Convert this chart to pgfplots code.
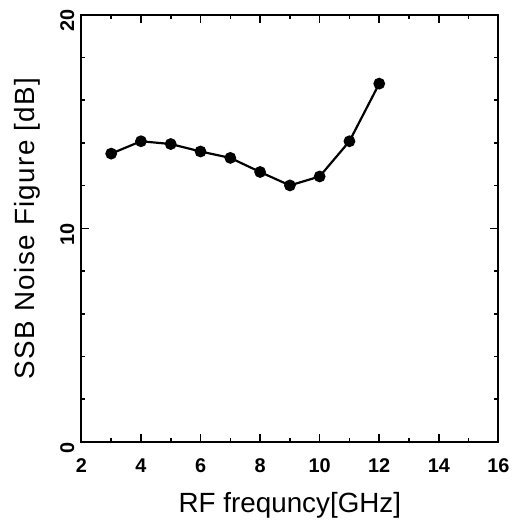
\documentclass[border=0pt]{standalone}
\usepackage{fontspec}
\setmainfont{Liberation Sans}
\usepackage{pgfplots}
\pgfplotsset{compat=1.18}
\begin{document}
\begin{tikzpicture}
\begin{axis}[
  scale only axis,
  width=210pt, height=215pt,
  xmin=2, xmax=16, ymin=0, ymax=20,
  xtick={2,4,...,16},
  minor xtick={3,5,...,15},
  ytick={0,10,20},
  minor ytick={2,4,6,8,12,14,16,18},
  tick align=inside,
  major tick length=4pt,
  minor tick length=2pt,
  axis line style={line width=1pt},
  every tick/.style={black, line width=0.8pt},
  tick label style={font=\bfseries\fontsize{10}{12}\selectfont},
  /pgf/number format/assume math mode=true,
  xticklabel style={yshift=-5pt},
  yticklabel style={rotate=90, anchor=south, xshift=-3pt},
  ylabel={SSB Noise Figure [dB]},
  xlabel={RF frequncy[GHz]},
  xlabel style={font=\fontsize{14}{16}\selectfont, at={(axis description cs:0.5,0)}, anchor=north, yshift=-22pt},
  ylabel style={font=\addfontfeatures{LetterSpace=5}\fontsize{14}{16}\selectfont, yshift=3pt},
]
\addplot[black, line width=1.1pt, mark=*, mark size=2.4pt] coordinates {
  (3,13.5) (4,14.08) (5,13.95) (6,13.6) (7,13.3) (8,12.64) (9,12.01) (10,12.43) (11,14.08) (12,16.78)
};
\end{axis}
\path (current axis.south west) +(-41pt,-38.5pt) (current axis.north east) +(11.5pt,7.5pt);
\end{tikzpicture}
\end{document}
